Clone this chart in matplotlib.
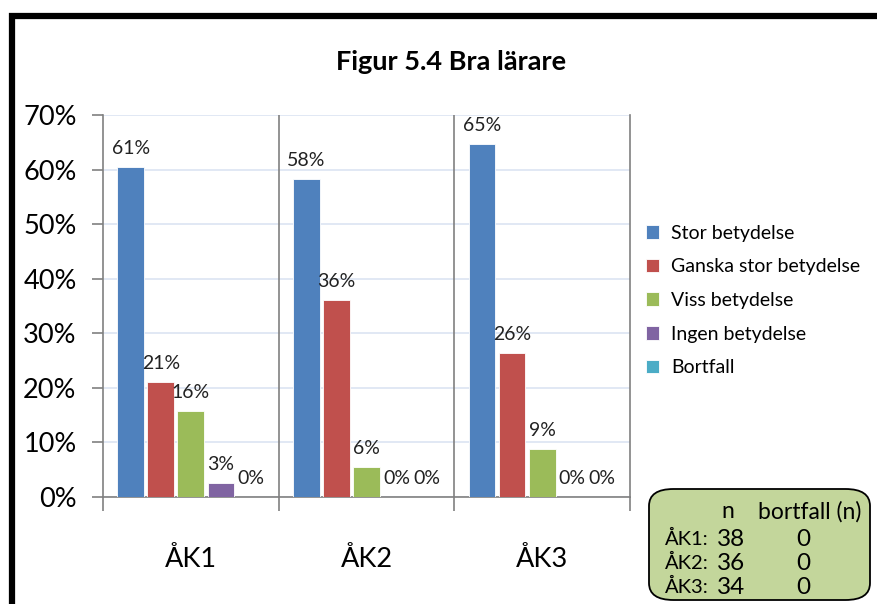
import numpy as np
import matplotlib
matplotlib.use("Agg")
import matplotlib.pyplot as plt
from matplotlib.patches import Rectangle, FancyBboxPatch

plt.rcParams['font.family'] = ['Lato', 'DejaVu Sans']

groups = ["ÅK1", "ÅK2", "ÅK3"]
series = ["Stor betydelse", "Ganska stor betydelse", "Viss betydelse",
          "Ingen betydelse", "Bortfall"]
values = [
    [60.53, 58.33, 64.71],   # Stor betydelse
    [21.05, 36.11, 26.47],   # Ganska stor betydelse
    [15.79, 5.56, 8.82],     # Viss betydelse
    [2.63, 0.0, 0.0],        # Ingen betydelse
    [0.0, 0.0, 0.0],         # Bortfall
]
colors = ["#4f81bd", "#c0504d", "#9bbb59", "#8064a2", "#4bacc6"]
n_counts = [38, 36, 34]
bortfall_counts = [0, 0, 0]

W, H = 877, 604
fig = plt.figure(figsize=(W / 100, H / 100), dpi=100)

# outer black frame (cut off on right and bottom)
fig.patches.append(Rectangle((12 / W, -0.05), 1.1, 1 - 16 / H + 0.05,
                             transform=fig.transFigure, fill=False,
                             edgecolor="black", linewidth=4.5))

ax = fig.add_axes([103 / W, (H - 497) / H, (630 - 103) / W, (497 - 115) / H])

x = np.arange(len(groups))
step = 0.171
width = 0.152
for i, (name, vals) in enumerate(zip(series, values)):
    pos = x + (i - 2) * step
    ax.bar(pos, vals, width, color=colors[i], label=name,
           edgecolor="#ffffff", linewidth=0.6, zorder=3)
    for px, v in zip(pos, vals):
        ax.annotate(f"{round(v)}%", (px, v), xytext=(0, 7),
                    textcoords="offset points", ha="center", va="bottom",
                    fontsize=14, color="#222222")

ax.set_ylim(0, 70)
ax.set_xlim(-0.5, 2.5)
ax.set_yticks(np.arange(0, 71, 10))
ax.set_yticklabels([f"{v}%" for v in range(0, 71, 10)], fontsize=19.5)
ax.yaxis.grid(True, color="#dbe4f2", linewidth=1.2, zorder=0)
ax.set_axisbelow(True)

ax.set_xticks([-0.5, 0.5, 1.5, 2.5])
ax.set_xticklabels([])
ax.set_xticks(x, minor=True)
ax.set_xticklabels(groups, minor=True, fontsize=19.5)
ax.tick_params(axis="x", which="major", length=10, color="#808080", width=1.2)
ax.tick_params(axis="x", which="minor", length=0, pad=36)
ax.tick_params(axis="y", length=8, color="#808080", width=1.2, pad=11)

for sep in [0.5, 1.5]:
    ax.axvline(sep, color="#808080", linewidth=1.2, zorder=1)

for side in ["left", "right", "bottom"]:
    ax.spines[side].set_color("#808080")
    ax.spines[side].set_linewidth(1.2)
ax.spines["top"].set_visible(False)

fig.text(451 / W, 1 - 62 / H, "Figur 5.4 Bra lärare", ha="center",
         va="center", fontsize=19.5, fontweight="bold")

fig.legend(loc="upper left", bbox_to_anchor=(628 / W, 1 - 207 / H),
           frameon=False, fontsize=14, handlelength=0.7, handleheight=0.7,
           handletextpad=0.6, labelspacing=0.86)

# info box
box = FancyBboxPatch((649 / W, 4 / H), 221 / W, (600 - 485 - 4) / H,
                     boxstyle="round,pad=0,rounding_size=0.028",
                     transform=fig.transFigure, facecolor="#c3d69b",
                     edgecolor="black", linewidth=1.3)
fig.patches.append(box)
fig.text(728 / W, 1 - 512 / H, "n", ha="center", va="center", fontsize=16.5)
fig.text(810 / W, 1 - 512 / H, "bortfall (n)", ha="center", va="center",
         fontsize=16.5)
for k, (g, n, b) in enumerate(zip(groups, n_counts, bortfall_counts)):
    yy = 1 - (539 + k * 24) / H
    fig.text(665 / W, yy, f"{g}:", ha="left", va="center", fontsize=14.5)
    fig.text(731 / W, yy, str(n), ha="center", va="center", fontsize=17.5)
    fig.text(803 / W, yy, str(b), ha="center", va="center", fontsize=17.5)

fig.savefig("out.png", dpi=100)
